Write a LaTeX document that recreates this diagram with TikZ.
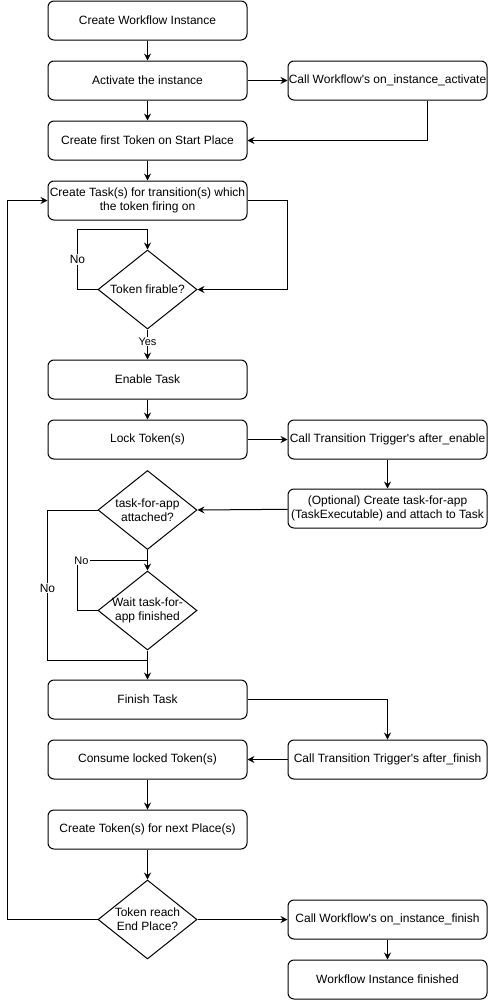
\documentclass[tikz,border=0pt]{standalone}
\usepackage{fontspec}
\setmainfont{Liberation Sans}
\usepackage{tikz}
\usetikzlibrary{positioning,arrows.meta,shapes.geometric}
\newcommand{\apos}{\textquotesingle}
\tikzset{
  stepbox/.style={rectangle, rounded corners=6pt, draw, line width=1pt, minimum width=199pt, minimum height=39pt, inner xsep=0pt, inner ysep=2pt, font=\fontsize{12pt}{14pt}\selectfont, align=center},
  decision/.style={diamond, draw, line width=1pt, minimum width=99pt, minimum height=79pt, aspect=1.25, inner sep=-6pt, font=\fontsize{12pt}{14pt}\selectfont, align=center},
  flow/.style={-{Stealth[length=7pt, width=7pt, inset=2.5pt]}, line width=1pt},
  wire/.style={line width=1pt},
  answer/.style={fill=white, inner sep=1pt, font=\fontsize{11pt}{13pt}\selectfont},
  bigans/.style={answer, font=\fontsize{12pt}{14pt}\selectfont},
}

\begin{document}
\begin{tikzpicture}[x=1pt, y=-1pt]
\useasboundingbox[fill=white] (0,0) rectangle (488,1001);

%Nodes
\node[stepbox] (create) at (147.5,20.5) {Create Workflow Instance};
\node[stepbox] (activate) [below=20pt of create] {Activate the instance};
\node[stepbox] (onact) [right=40pt of activate] {Call Workflow\apos s on\_instance\_activate};
\node[stepbox] (first) [below=20pt of activate] {Create first Token on Start Place};
\node[stepbox] (task) [below=20pt of first] {Create Task(s) for transition(s) which\\the token firing on};
\node[decision] (firable) [below=29pt of task] {Token firable?};
\node[stepbox] (enable) [below=30pt of firable] {Enable Task};
\node[stepbox] (lock) [below=20pt of enable] {Lock Token(s)};
\node[stepbox] (afterenable) [right=40pt of lock] {Call Transition Trigger\apos s after\_enable};
\node[stepbox] (optional) [below=29pt of afterenable] {(Optional) Create task-for-app\\(TaskExecutable) and attach to Task};
\node[decision] (attached) [below=10.5pt of lock] {task-for-app\\attached?};
\node[decision] (waitapp) [below=20.5pt of attached] {Wait task-for-\\app finished};
\node[stepbox] (finish) [below=29pt of waitapp] {Finish Task};
\node[stepbox] (consume) [below=20pt of finish] {Consume locked Token(s)};
\node[stepbox] (afterfinish) [right=40pt of consume] {Call Transition Trigger\apos s after\_finish};
\node[stepbox] (nextplace) [below=30pt of consume] {Create Token(s) for next Place(s)};
\node[decision] (reach) [below=30pt of nextplace] {Token reach\\End Place?};
\node[stepbox] (onfinish) [right=90pt of reach] {Call Workflow\apos s on\_instance\_finish};
\node[stepbox] (done) [below=20pt of onfinish] {Workflow Instance finished};

%Lines
\draw[flow] (create) -- (activate);
\draw[flow] (activate) -- (onact);
\draw[flow] ([xshift=40pt]onact.south) |- (first.east);
\draw[flow] (activate) -- (first);
\draw[flow] (first) -- (task);
\draw[flow] (task.east) -- ++(40,0) |- (firable.east);
\draw[flow] (firable.west) -- ++(-20,0) |- node[bigans, pos=0.25] {No} ([yshift=20pt]firable.north) -- (firable.north);
\draw[flow] (firable) -- node[answer, pos=0.4] {Yes} (enable);
\draw[flow] (enable) -- (lock);
\draw[flow] (lock) -- (afterenable);
\draw[flow] (afterenable) -- (optional);
\draw[flow] (optional) -- (attached.east);
\draw[flow] (attached) -- (waitapp);
\draw[wire] (waitapp.west) -- ++(-20,0) |- ([yshift=10pt]waitapp.north) node[answer, pos=0.5, xshift=4pt] {No};
\draw[wire] (attached.west) -- ++(-50,0) |- node[bigans, pos=0.26] {No} ([yshift=-10pt]waitapp.south);
\draw[flow] (waitapp) -- (finish);
\draw[flow] (finish.east) -| (afterfinish.north);
\draw[flow] (afterfinish) -- (consume);
\draw[flow] (consume) -- (nextplace);
\draw[flow] (nextplace) -- (reach);
\draw[flow] (reach) -- (onfinish);
\draw[flow] (onfinish) -- (done);
\draw[flow] (reach.west) -- ++(-90,0) |- (task.west);
\end{tikzpicture}
\end{document}
